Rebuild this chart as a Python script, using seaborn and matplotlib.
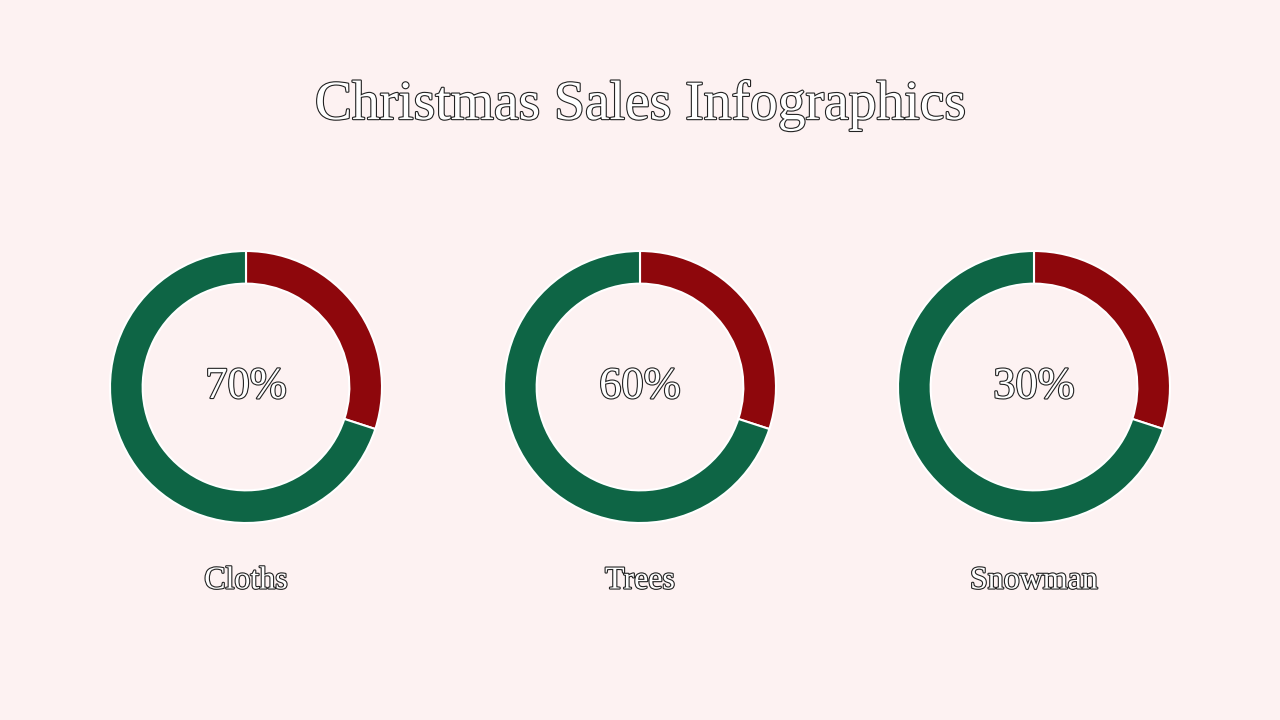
import matplotlib
matplotlib.use("Agg")
import matplotlib.pyplot as plt
import matplotlib.patheffects as pe
import seaborn as sns

sns.set_theme(style="white")
plt.rcParams['font.family'] = ['Liberation Serif', 'DejaVu Serif']

title = "Christmas Sales Infographics"
categories = ["Cloths", "Trees", "Snowman"]
center_labels = ["70%", "60%", "30%"]
red_share = [30, 30, 30]
green_share = [70, 70, 70]
colors = ["#8E070C", "#0E6545"]
bg = "#FDF2F2"

fig = plt.figure(figsize=(12.8, 7.2), dpi=100, facecolor=bg)
outline = [pe.withStroke(linewidth=1.6, foreground="#222222")]

fig.text(0.5, 1 - 105/720, title, ha="center", va="center", fontsize=40,
         color="white", path_effects=outline)

centers_x = [246, 640, 1034]
cy = 387
R = 136
for i, cat in enumerate(categories):
    ax = fig.add_axes([(centers_x[i]-R)/1280, (720-cy-R)/720, 2*R/1280, 2*R/720])
    ax.set_facecolor(bg)
    ax.pie([red_share[i], green_share[i]], colors=colors, startangle=90,
           counterclock=False, radius=1,
           wedgeprops=dict(width=0.24, edgecolor="white", linewidth=1.5))
    ax.set_aspect("equal")
    ax.set_xlim(-1, 1); ax.set_ylim(-1, 1)
    ax.axis("off")
    ax.text(0, 0, center_labels[i], ha="center", va="center", fontsize=32,
            color="white", path_effects=outline)
    fig.text(centers_x[i]/1280, 1 - 581/720, cat, ha="center", va="center",
             fontsize=23, color="white", path_effects=outline)

fig.savefig("out.png", dpi=100, facecolor=bg)
